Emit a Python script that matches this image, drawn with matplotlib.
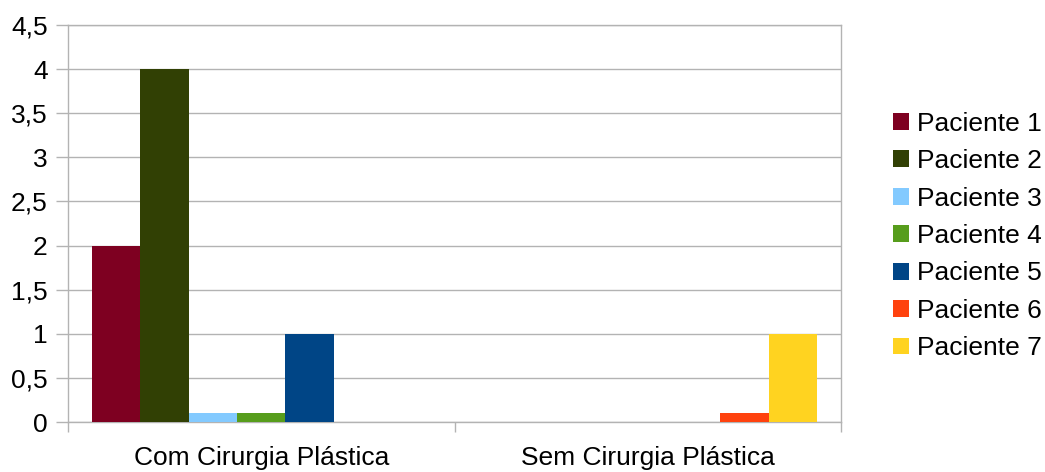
import matplotlib
matplotlib.use("Agg")
import matplotlib.pyplot as plt
import numpy as np

categories = ["Com Cirurgia Plástica", "Sem Cirurgia Plástica"]
series_names = ["Paciente 1", "Paciente 2", "Paciente 3", "Paciente 4",
                "Paciente 5", "Paciente 6", "Paciente 7"]
values = [
    [2, 0],     # Paciente 1
    [4, 0],     # Paciente 2
    [0.1, 0],   # Paciente 3
    [0.1, 0],   # Paciente 4
    [1, 0],     # Paciente 5
    [0, 0.1],   # Paciente 6
    [0, 1],     # Paciente 7
]
colors = ["#7E0021", "#314004", "#83CAFF", "#579D1C", "#004586", "#FF420E", "#FFD320"]
y_ticks = [0, 0.5, 1, 1.5, 2, 2.5, 3, 3.5, 4, 4.5]
y_tick_labels = ["0", "0,5", "1", "1,5", "2", "2,5", "3", "3,5", "4", "4,5"]

plt.rcParams['font.family'] = ['Liberation Sans', 'DejaVu Sans']
grid_color = "#b3b3b3"
fs = 19

fig = plt.figure(figsize=(10.45, 4.72), dpi=100)
ax = fig.add_axes([68 / 1045, 1 - 422 / 472, (841 - 68) / 1045, (422 - 25) / 472])

n = len(series_names)
bar_w = 0.875 / n
x = np.arange(len(categories))
for i, (name, vals, c) in enumerate(zip(series_names, values, colors)):
    offs = (i - (n - 1) / 2) * bar_w
    ax.bar(x + offs, vals, width=bar_w, color=c, label=name, zorder=3, linewidth=0)

ax.set_xlim(-0.5, len(categories) - 0.5)
ax.set_ylim(0, 4.5)
ax.set_yticks(y_ticks)
ax.set_yticklabels(y_tick_labels)
ax.yaxis.grid(True, color=grid_color, linewidth=1.0, zorder=0)
ax.set_axisbelow(True)

ax.set_xticks(x)
ax.set_xticklabels(categories)
ax.set_xticks(np.arange(-0.5, len(categories), 1.0), minor=True)
ax.tick_params(axis='x', which='major', length=0, pad=17, labelsize=fs)
ax.tick_params(axis='x', which='minor', length=7.5, width=1.0, color=grid_color)
ax.tick_params(axis='y', which='major', length=8.5, width=1.0, color=grid_color,
               labelsize=fs, pad=6)

for s in ax.spines.values():
    s.set_color(grid_color)
    s.set_linewidth(1.0)

fig.legend(loc='center left', bbox_to_anchor=(893 / 1045, 1 - 236 / 472),
           frameon=False, fontsize=fs, handlelength=0.6, handleheight=0.6,
           handletextpad=0.3, labelspacing=0.51, borderpad=0, borderaxespad=0)

fig.savefig("out.png", dpi=100)
